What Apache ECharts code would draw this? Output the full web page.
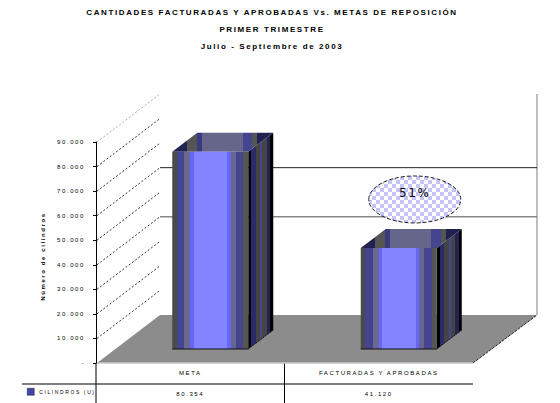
<!DOCTYPE html>
<html>
<head>
<meta charset="utf-8">
<script src="https://cdn.jsdelivr.net/npm/echarts@6/dist/echarts.min.js"></script>
<style>
html,body{margin:0;padding:0;background:#fff}
#c{width:560px;height:403px}
svg text{letter-spacing:1.6px}
</style>
</head>
<body>
<div id="c"></div>
<script>
const titles = ['CANTIDADES FACTURADAS Y APROBADAS Vs. METAS DE REPOSICIÓN', 'PRIMER TRIMESTRE', 'Julio - Septiembre de 2003'];
const categories = ['META', 'FACTURADAS Y APROBADAS'];
const cylinders = [80354, 41120];
const tableLabels = ['80.354', '41.120'];
const seriesName = 'CILINDROS (U)';
const axisTitle = 'Número de cilindros';
const gridTicks = [10000, 20000, 30000, 40000, 50000, 60000, 70000, 80000, 90000];
const wallLines = [40000, 60000];
const noteLabel = '51%';
const noteLevel = [66600];

// 3D projection of the pseudo-perspective box (pixels)
const BOX = {dx: 64, dy: -48};
const BAR = {shift: 20, lift: 14, width: 76, dx: 25, dy: -19};

function hardStops(list) {
  const total = list.reduce((s, a) => s + a[0], 0);
  const out = []; let p = 0;
  list.forEach(a => {
    out.push({offset: p / total, color: a[1]});
    p += a[0];
    out.push({offset: p / total, color: a[1]});
  });
  return {type: 'linear', x: 0, y: 0, x2: 1, y2: 0, colorStops: out};
}
const frontFill = hardStops([[13,'#4a4a4a'],[22,'#45458f'],[18,'#6a6a90'],[10,'#6666ff'],[100,'#8484ff'],[10,'#6666ff'],[15,'#66668f'],[22,'#45458f'],[15,'#555555']]);
const sideFill = hardStops([[10,'#000000'],[13,'#2a2a6a'],[15,'#444444'],[6,'#45458f'],[14,'#444444'],[10,'#222255'],[10,'#000000']]);
const topFill = hardStops([[43,'#222250'],[30,'#555555'],[15,'#3a3a80'],[122,'#66668a'],[28,'#45458f'],[15,'#555555'],[48,'#222250']]);

function renderBar(params, api) {
  const top = api.coord([api.value(0), api.value(1)]);
  const base = api.coord([api.value(0), 0]);
  const l = top[0] + BAR.shift - BAR.width / 2, r = l + BAR.width;
  const t = top[1] - BAR.lift, b = base[1] - BAR.lift;
  const dx = BAR.dx, dy = BAR.dy;
  return {type: 'group', children: [
    {type: 'polygon', shape: {points: [[r, t], [r + dx, t + dy], [r + dx, b + dy], [r, b]]}, style: {fill: sideFill}},
    {type: 'polygon', shape: {points: [[l, t], [l + dx, t + dy], [r + dx, t + dy], [r, t]]}, style: {fill: topFill}},
    {type: 'rect', shape: {x: l, y: t, width: BAR.width, height: b - t}, style: {fill: frontFill}},
    {type: 'line', shape: {x1: l, y1: b, x2: r, y2: b}, style: {stroke: '#111', lineWidth: 1}},
    {type: 'line', shape: {x1: r, y1: b, x2: r + dx, y2: b + dy}, style: {stroke: '#111', lineWidth: 1, lineDash: [2, 1]}}
  ]};
}
function renderFloor(params, api) {
  const c0 = api.coord([0, 0]), band = api.size([1, 0])[0];
  const l = c0[0] - band / 2, r = l + band * categories.length, y = c0[1];
  const tx = BOX.dx, ty = BOX.dy;
  return {type: 'group', children: [
    {type: 'polygon', shape: {points: [[l + 1, y], [l + tx, y + ty], [r + tx, y + ty], [r, y]]}, style: {fill: '#8c8c8c'}},
    {type: 'line', shape: {x1: l + 1, y1: y, x2: r, y2: y}, style: {stroke: '#c8c8c8', lineWidth: 1.5}},
    {type: 'line', shape: {x1: r, y1: y, x2: r + tx, y2: y + ty}, style: {stroke: '#222', lineWidth: 1, lineDash: [3, 1]}},
    {type: 'line', shape: {x1: r + tx, y1: api.coord([0, 90000])[1] + ty, x2: r + tx, y2: y + ty}, style: {stroke: '#bdbdbd', lineWidth: 2}}
  ]};
}
function renderDiagonal(params, api) {
  const p = api.coord([0, api.value(1)]), band = api.size([1, 0])[0];
  const x = p[0] - band / 2;
  return {type: 'line', shape: {x1: x + 1, y1: p[1], x2: x + BOX.dx, y2: p[1] + BOX.dy},
    style: {stroke: api.value(1) === 90000 ? '#aaaaaa' : '#333333', lineWidth: 1, lineDash: [2, 2]}};
}
function renderWall(params, api) {
  const p = api.coord([0, api.value(1)]), band = api.size([1, 0])[0];
  const x = p[0] - band / 2 + BOX.dx;
  const v = api.value(1);
  return {type: 'line', shape: {x1: x, y1: p[1] + BOX.dy, x2: x + band * categories.length, y2: p[1] + BOX.dy},
    style: {stroke: v === 60000 ? '#222222' : '#888888', lineWidth: v === 60000 ? 1 : 1.5}};
}
const tile = document.createElement('canvas');
tile.width = tile.height = 8;
(function () {
  const g = tile.getContext('2d');
  g.fillStyle = '#ffffff'; g.fillRect(0, 0, 8, 8);
  g.fillStyle = '#c4c4fa'; g.fillRect(0, 0, 4, 4); g.fillRect(4, 4, 4, 4);
})();
function renderNote(params, api) {
  const p = api.coord([1, api.value(1)]);
  const cx = p[0] + 36, cy = p[1];
  return {type: 'group', children: [
    {type: 'ellipse', shape: {cx: cx, cy: cy, rx: 46, ry: 23.5},
      style: {fill: {image: tile, repeat: 'repeat'}, stroke: '#222', lineWidth: 1, lineDash: [4, 2]}},
    {type: 'text', style: {x: cx, y: cy - 6, text: noteLabel, align: 'center', verticalAlign: 'middle', fill: '#000', font: '12px "DejaVu Sans"'}}
  ]};
}

const chart = echarts.init(document.getElementById('c'), null, {renderer: 'svg', width: 560, height: 403});
chart.setOption({
  animation: false,
  backgroundColor: '#fff',
  title: titles.map((t, i) => ({
    text: t, left: 267, top: 3 + i * 17, textAlign: 'center',
    textStyle: {fontFamily: 'Liberation Sans', fontSize: 8, fontWeight: 'bold', color: '#000', lineHeight: 9}
  })),
  legend: {
    left: 22, top: 383, itemWidth: 7, itemHeight: 7, itemGap: 2, selectedMode: false,
    data: [{name: seriesName, icon: 'rect', itemStyle: {color: '#4444aa', borderColor: '#222', borderWidth: 0.5}}],
    textStyle: {fontFamily: 'Liberation Sans', fontSize: 5, color: '#000'}
  },
  grid: {left: 96, right: 87, top: 142, height: 221, outerBoundsMode: 'none'},
  xAxis: {
    type: 'category', data: categories,
    axisLine: {show: false}, axisTick: {show: false},
    axisLabel: {
      margin: -1, interval: 0, color: '#000', fontFamily: 'Liberation Sans', fontSize: 6, lineHeight: 21,
      formatter: (v, i) => v + '\n' + tableLabels[i]
    }
  },
  yAxis: {
    type: 'value', min: 0, max: 90000, interval: 10000,
    name: axisTitle, nameLocation: 'middle', nameRotate: 90, nameGap: 50,
    nameTextStyle: {fontFamily: 'Liberation Sans', fontSize: 6, fontWeight: 'bold', color: '#000', padding: [0, 8, 0, 0]},
    axisLine: {show: true, lineStyle: {color: '#000', width: 1}},
    axisTick: {show: true, length: 3, lineStyle: {color: '#000'}},
    splitLine: {show: false},
    axisLabel: {
      margin: 11, color: '#000', fontFamily: 'Liberation Sans', fontSize: 6,
      formatter: v => v === 0 ? '-' : String(v / 1000) + '.000'
    }
  },
  graphic: [
    {type: 'line', silent: true, shape: {x1: 22, y1: 384, x2: 473, y2: 384}, style: {stroke: '#000', lineWidth: 1}},
    {type: 'line', silent: true, shape: {x1: 96, y1: 363, x2: 96, y2: 403}, style: {stroke: '#000', lineWidth: 1}},
    {type: 'line', silent: true, shape: {x1: 284.5, y1: 363, x2: 284.5, y2: 403}, style: {stroke: '#000', lineWidth: 1}}
  ],
  series: [
    {type: 'custom', name: 'floor', silent: true, renderItem: renderFloor, data: [[0, 0]], z: 1},
    {type: 'custom', name: 'walls', silent: true, renderItem: renderWall, data: wallLines.map(v => [0, v]), z: 2},
    {type: 'custom', name: 'diagonals', silent: true, renderItem: renderDiagonal, data: gridTicks.map(v => [0, v]), z: 2},
    {type: 'custom', name: seriesName, renderItem: renderBar, data: cylinders.map((v, i) => [i, v]), z: 3, itemStyle: {color: '#4444aa'}},
    {type: 'custom', name: 'note', silent: true, renderItem: renderNote, data: noteLevel.map(v => [1, v]), z: 4}
  ]
});
</script>
</body>
</html>
